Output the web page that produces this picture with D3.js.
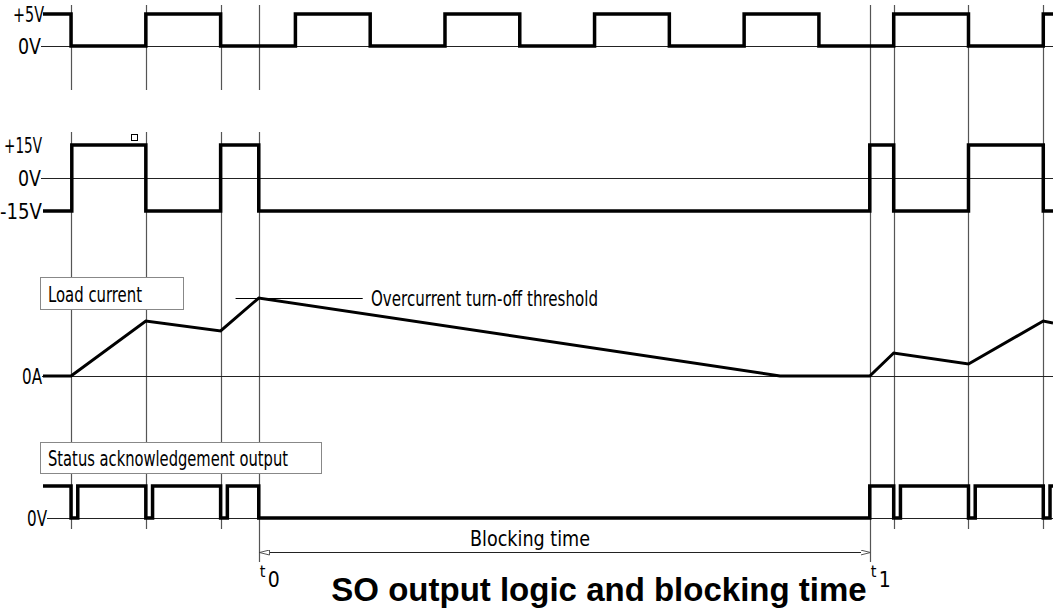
<!DOCTYPE html>
<html>
<head>
<meta charset="utf-8">
<script src="https://cdn.jsdelivr.net/npm/d3@7/dist/d3.min.js"></script>
<style>
  html, body { margin: 0; padding: 0; background: #fff; }
  svg { display: block; }
  .lbl { font-family: "Liberation Sans Narrow", "DejaVu Sans", sans-serif; font-stretch: condensed; fill: #000; }
</style>
</head>
<body>
<svg id="chart" width="1053" height="612"></svg>
<script>
// ---------------- DATA ----------------
// time in units where one clock half-period = 10
const timeDomain = [-3.75, 131.3];
const t0 = 25.1, t1 = 106.8;
const refTimes = [0, 10, 20, 25.1, 106.8, 110, 120, 130];          // vertical reference lines
const clockTimes  = [-3.75, 0, 10, 20, 30, 40, 50, 60, 70, 80, 90, 100, 110, 120, 130, 131.3];
const clockLevels = [5, 0, 5, 0, 5, 0, 5, 0, 5, 0, 5, 0, 5, 0, 5, 5];
const gateTimes  = [-3.75, 0.1, 10, 20, 25.1, 106.8, 110, 120, 130, 131.3];
const gateLevels = [-15, 15, -15, 15, -15, 15, -15, 15, -15, -15];
const currentTimes  = [-3.75, 0, 10, 20, 25.1, 94.8, 106.8, 110, 120, 130, 131.3];
const currentValues = [0, 0, 70.5, 57.7, 100, 0, 0, 29.5, 15.4, 70.5, 68];   // % of overcurrent threshold
const statusTimes  = [-3.75, 0, 0.9, 10, 10.9, 20, 20.9, 25.1, 106.8, 110, 110.9, 120, 120.9, 130, 130.9, 131.3];
const statusLevels = [1, 0, 1, 0, 1, 0, 1, 0, 1, 0, 1, 0, 1, 0, 1, 1];
const clockTickValues = [5, 0],        clockTickLabels = ["+5V", "0V"];
const gateTickValues  = [15, 0, -15],  gateTickLabels  = ["+15V", "0V", "-15V"];
const currentTickValues = [0],         currentTickLabels = ["0A"];
const statusTickValues  = [0],         statusTickLabels  = ["0V"];
const thresholdSpan = [22.0, 39.0];
const texts = {
  load: "Load current",
  status: "Status acknowledgement output",
  threshold: "Overcurrent turn-off threshold",
  blocking: "Blocking time",
  title: "SO output logic and blocking time"
};

// ---------------- SCALES ----------------
const svg = d3.select("#chart");
const x = d3.scaleLinear().domain(timeDomain).range([43, 1053]);
const yClock = d3.scaleLinear().domain([0, 5]).range([46, 14]);
const yGate = d3.scaleLinear().domain([-15, 15]).range([211, 145]);
const yCur = d3.scaleLinear().domain([0, 100]).range([376, 298]);
const yStat = d3.scaleLinear().domain([0, 1]).range([518, 486]);

const zip = (a, b) => a.map((t, i) => [t, b[i]]);
const FONT = 22;

function label(sel, xPos, yPos, txt, len, anchor) {
  const t = sel.append("text").attr("class", "lbl").attr("x", xPos).attr("y", yPos)
    .attr("dominant-baseline", "central").attr("font-size", FONT)
    .attr("text-anchor", anchor || "start").text(txt);
  if (len) t.attr("textLength", len).attr("lengthAdjust", "spacingAndGlyphs");
  return t;
}

// ---------------- VERTICAL REFERENCE LINES ----------------
const vg = svg.append("g").attr("stroke", "#555").attr("stroke-width", 1.2);
refTimes.forEach(t => {
  const xp = Math.round(x(t)) + 0.5;
  const right = t >= t1;
  const bottom = (t === t0 || t === t1) ? 562 : 529;
  if (right) {
    vg.append("line").attr("x1", xp).attr("x2", xp).attr("y1", 5).attr("y2", bottom);
  } else {
    vg.append("line").attr("x1", xp).attr("x2", xp).attr("y1", 5).attr("y2", 90);
    vg.append("line").attr("x1", xp).attr("x2", xp).attr("y1", 132).attr("y2", bottom);
  }
});

// ---------------- BASELINES + LABELS ----------------
function axisLabels(scale, values, labels, rights, lens) {
  const g = svg.append("g");
  values.forEach((v, i) => {
    const yp = scale(v);
    label(g, rights[i], yp, labels[i], lens[i], "end");
    if (v === 0) {
      g.append("line").attr("x1", rights[i]).attr("x2", 1053)
        .attr("y1", Math.round(yp) + 0.5).attr("y2", Math.round(yp) + 0.5)
        .attr("stroke", "#222").attr("stroke-width", 1);
    }
  });
}
axisLabels(yClock, clockTickValues, clockTickLabels, [44, 41], [31, 23]);
axisLabels(yGate, gateTickValues, gateTickLabels, [42, 41, 42], [38, 23, 42]);
axisLabels(yCur, currentTickValues, currentTickLabels, [42], [20]);
axisLabels(yStat, statusTickValues, statusTickLabels, [47], [20]);

// ---------------- LABEL BOXES ----------------
function box(x0, y0, w, h, txt, len) {
  svg.append("rect").attr("x", x0 + 0.5).attr("y", y0 + 0.5).attr("width", w).attr("height", h)
    .attr("fill", "#fff").attr("stroke", "#888").attr("stroke-width", 1);
  label(svg, x0 + 8, y0 + h / 2 + 1, txt, len);
}
box(40, 277, 143, 32, texts.load, 94);
box(40, 442, 281, 31, texts.status, 240);

// ---------------- SIGNALS ----------------
const step = (ys) => d3.line().x(d => x(d[0])).y(d => ys(d[1])).curve(d3.curveStepAfter);
const lin = (ys) => d3.line().x(d => x(d[0])).y(d => ys(d[1]));
const sig = svg.append("g").attr("fill", "none").attr("stroke", "#000")
  .attr("stroke-width", 3.5).attr("stroke-linejoin", "miter");
sig.append("path").attr("d", step(yClock)(zip(clockTimes, clockLevels)));
sig.append("path").attr("d", step(yGate)(zip(gateTimes, gateLevels)));
sig.append("path").attr("d", lin(yCur)(zip(currentTimes, currentValues))).attr("stroke-width", 3);
sig.append("path").attr("d", step(yStat)(zip(statusTimes, statusLevels)));

// small square artifact
svg.append("rect").attr("x", 131.5).attr("y", 134.5).attr("width", 6).attr("height", 6)
  .attr("fill", "none").attr("stroke", "#000").attr("stroke-width", 1);

// ---------------- THRESHOLD ----------------
const yTh = Math.round(yCur(100)) + 0.5;
svg.append("line").attr("x1", x(thresholdSpan[0])).attr("x2", x(thresholdSpan[1]))
  .attr("y1", yTh).attr("y2", yTh).attr("stroke", "#000").attr("stroke-width", 1);
label(svg, 371, yTh, texts.threshold, 227);

// ---------------- BLOCKING TIME ARROW ----------------
const defs = svg.append("defs");
["start", "end"].forEach(k => {
  defs.append("marker").attr("id", "arr-" + k).attr("viewBox", "0 0 10 6")
    .attr("refX", k === "start" ? 0 : 10).attr("refY", 3)
    .attr("markerWidth", 10).attr("markerHeight", 6).attr("markerUnits", "userSpaceOnUse")
    .attr("orient", "auto")
    .append("path").attr("d", k === "start" ? "M10,0.5 L0,3 L10,5.5 Z" : "M0,0.5 L10,3 L0,5.5 Z")
    .attr("fill", "#fff").attr("stroke", "#555").attr("stroke-width", 1);
});
svg.append("line").attr("x1", Math.round(x(t0)) + 0.5).attr("x2", Math.round(x(t1)) + 0.5)
  .attr("y1", 552.5).attr("y2", 552.5).attr("stroke", "#222").attr("stroke-width", 1)
  .attr("marker-start", "url(#arr-start)").attr("marker-end", "url(#arr-end)");
label(svg, 530, 538, texts.blocking, 120, "middle");

// ---------------- t0 / t1 ----------------
[[t0, "0"], [t1, "1"]].forEach(([t, s]) => {
  const xp = x(t);
  svg.append("text").attr("class", "lbl").attr("x", xp + 1).attr("y", 577)
    .attr("font-size", 16).text("t");
  svg.append("text").attr("class", "lbl").attr("x", xp + 9).attr("y", 587)
    .attr("font-size", 21).text(s);
});

// ---------------- TITLE ----------------
svg.append("text").attr("x", 599).attr("y", 601).attr("text-anchor", "middle")
  .attr("font-family", "'Liberation Sans', Arial, sans-serif").attr("font-weight", "bold")
  .attr("font-size", 33).attr("fill", "#000").text(texts.title);
</script>
</body>
</html>
